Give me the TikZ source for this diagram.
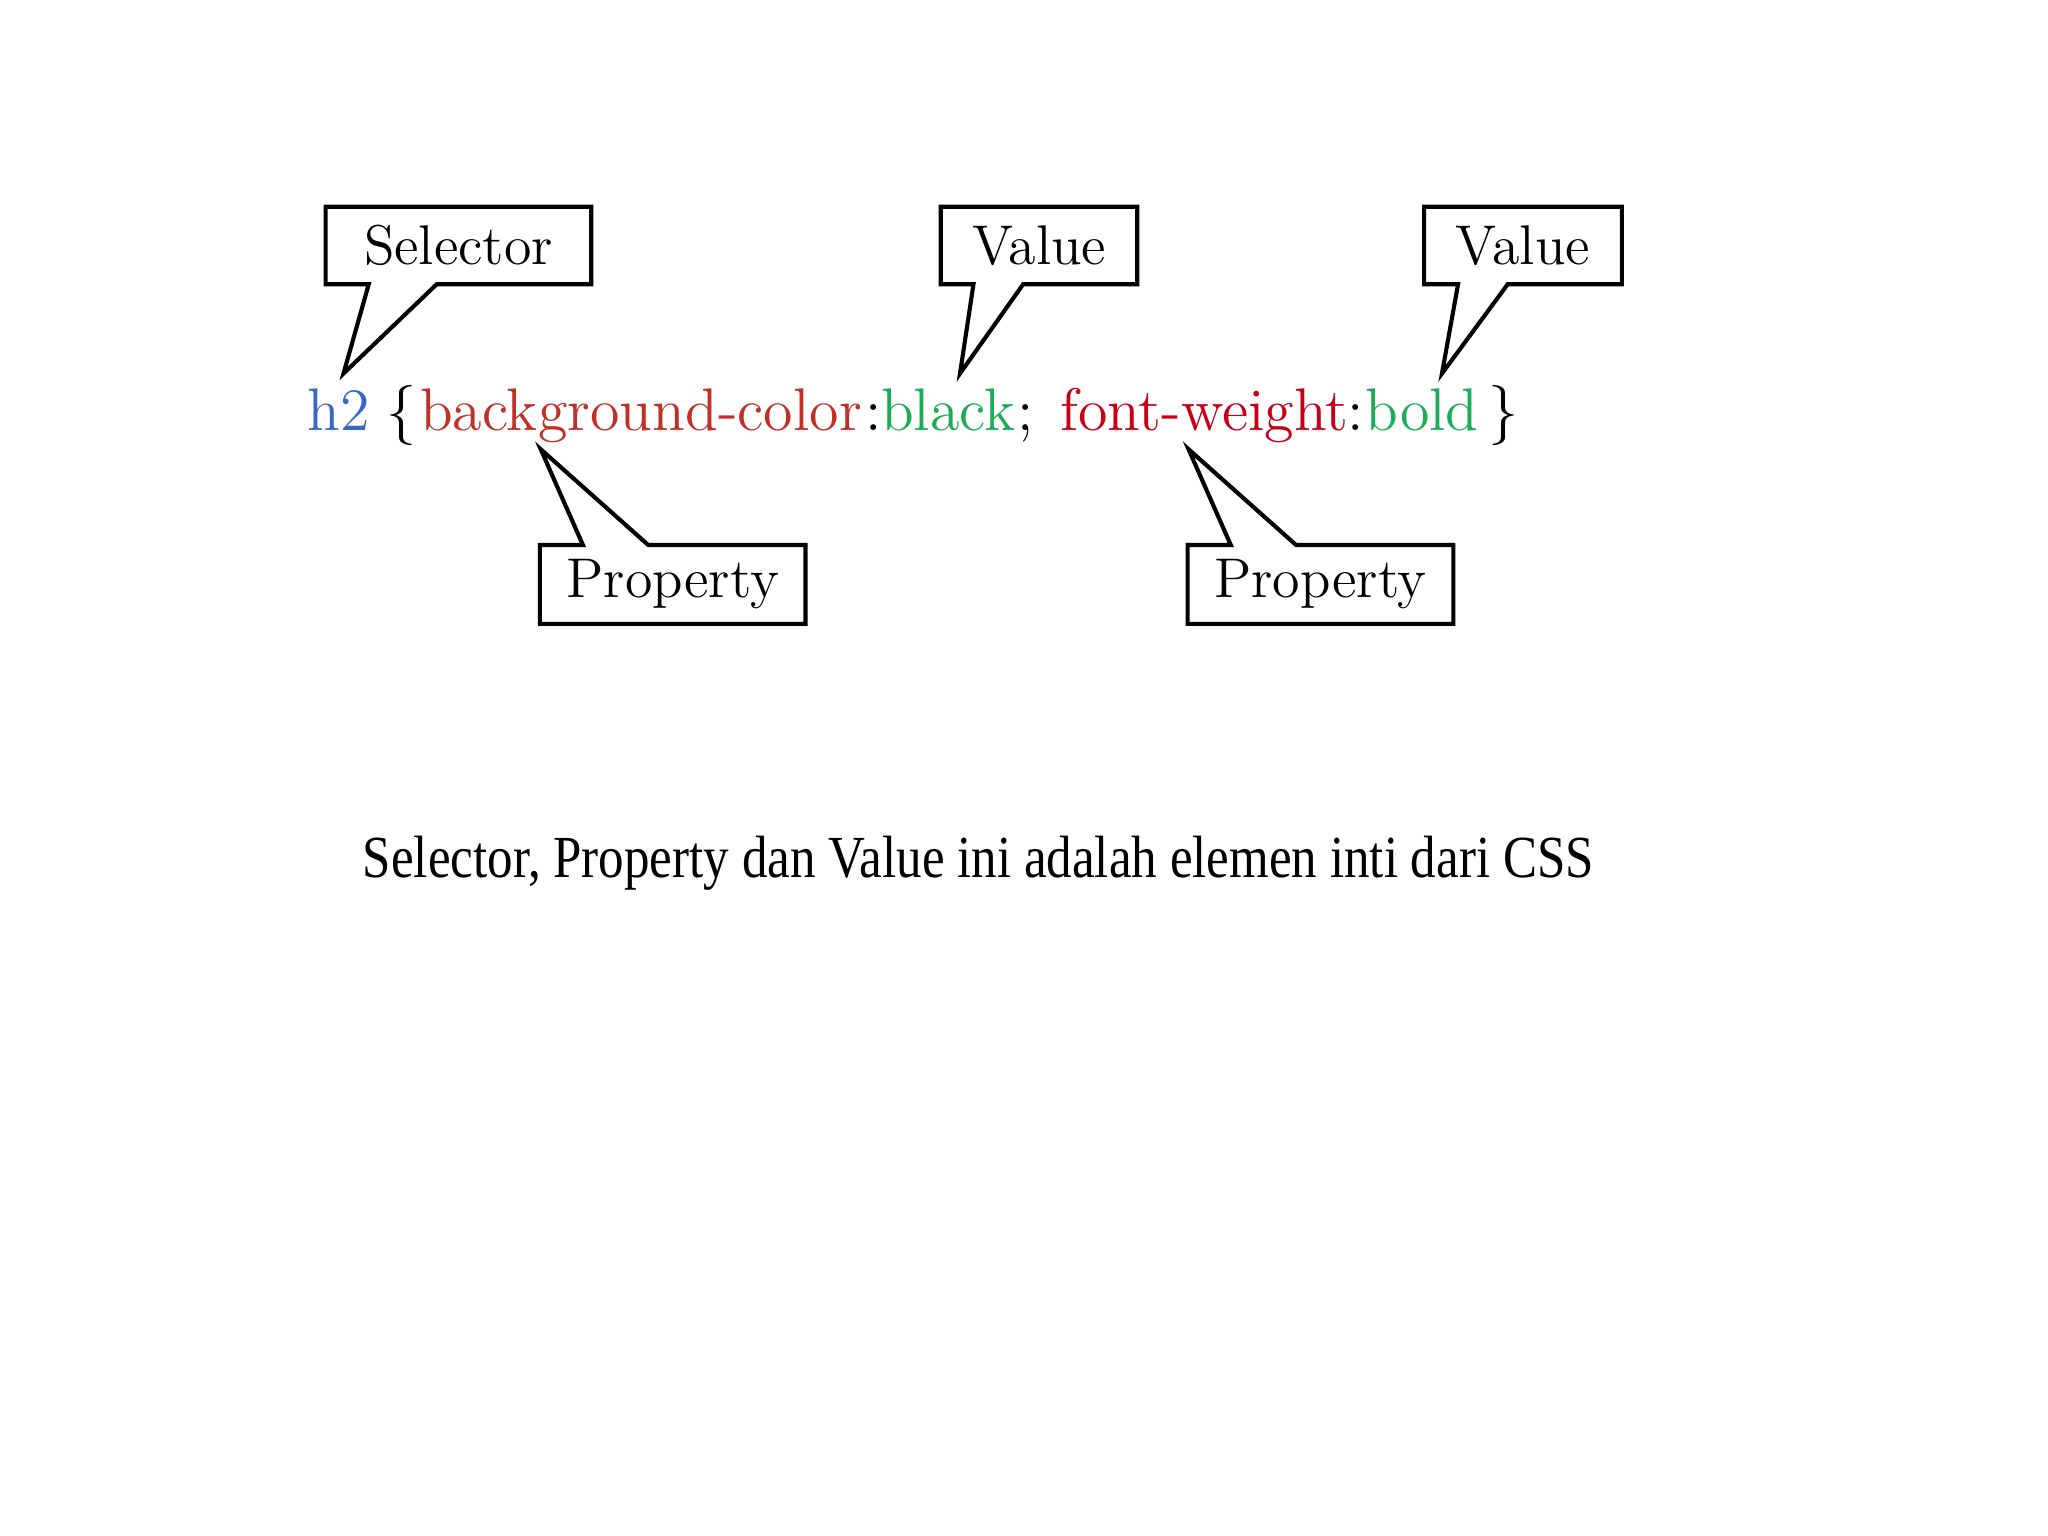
\documentclass[tikz,border=0pt]{standalone}
\usepackage{fontspec}
\newfontfamily\notefont{Liberation Serif}
\usepackage{tikz}
\usetikzlibrary{calc}
\definecolor{selblue}{RGB}{58,102,200}
\definecolor{propbrown}{RGB}{192,48,38}
\definecolor{propred}{RGB}{200,0,22}
\definecolor{valgreen}{RGB}{28,172,84}
\tikzstyle{tagbox} = [inner sep=0pt, minimum width=2.02cm, minimum height=0.58cm, font=\fontsize{12.2}{14}\selectfont]
\tikzstyle{tagline} = [line width=0.9pt, line join=miter]
\tikzstyle{codetext} = [anchor=base west, inner sep=0pt, font=\fontsize{13.1}{15}\selectfont]

\begin{document}
\begin{tikzpicture}
	\useasboundingbox (0,0) rectangle (15.68,11.76);
	% code line
	\node[codetext, text=selblue] (csel) at (2.35,8.46) {h2};
	\node[codetext] (copen) at (2.95,8.46) {\{};
	\node[codetext, text=propbrown] (cpropA) at (3.21,8.46) {background-color};
	\node[codetext] (ccolA) at (6.62,8.46) {:};
	\node[codetext, text=valgreen] (cvalA) at (6.74,8.46) {black};
	\node[codetext] (csemi) at (7.78,8.46) {;};
	\node[codetext, text=propred] (cpropB) at (8.11,8.46) {font-weight};
	\node[codetext] (ccolB) at (10.31,8.46) {:};
	\node[codetext, text=valgreen] (cvalB) at (10.45,8.46) {bold};
	\node[codetext] (cclose) at (11.39,8.46) {\}};
	\coordinate (tipsel) at (2.63,8.90);
	\coordinate (tipvalA) at (7.35,8.90);
	\coordinate (tipvalB) at (11.04,8.90);
	\coordinate (tippropA) at (4.14,8.32);
	\coordinate (tippropB) at (9.10,8.32);
	% boxes above
	\node[tagbox] (sel) at (3.51,9.88) {Selector};
	\node[tagbox, minimum width=1.49cm] (valA) at (7.955,9.88) {Value};
	\node[tagbox, minimum width=1.50cm] (valB) at (11.66,9.88) {Value};
	\draw[tagline] (sel.north west) -- (sel.north east) -- (sel.south east) -- ($(sel.south west)+(0.85,0)$) -- (tipsel) -- ($(sel.south west)+(0.33,0)$) -- (sel.south west) -- cycle;
	\draw[tagline] (valA.north west) -- (valA.north east) -- (valA.south east) -- ($(valA.south west)+(0.63,0)$) -- (tipvalA) -- ($(valA.south west)+(0.25,0)$) -- (valA.south west) -- cycle;
	\draw[tagline] (valB.north west) -- (valB.north east) -- (valB.south east) -- ($(valB.south west)+(0.64,0)$) -- (tipvalB) -- ($(valB.south west)+(0.26,0)$) -- (valB.south west) -- cycle;
	% boxes below
	\node[tagbox, minimum height=0.59cm] (propA) at (5.15,7.285) {Property};
	\node[tagbox, minimum height=0.59cm] (propB) at (10.11,7.285) {Property};
	\draw[tagline] (propA.south west) -- (propA.south east) -- (propA.north east) -- ($(propA.north west)+(0.83,0)$) -- (tippropA) -- ($(propA.north west)+(0.33,0)$) -- (propA.north west) -- cycle;
	\draw[tagline] (propB.south west) -- (propB.south east) -- (propB.north east) -- ($(propB.north west)+(0.83,0)$) -- (tippropB) -- ($(propB.north west)+(0.33,0)$) -- (propB.north west) -- cycle;
	% caption
	\node[anchor=base, inner sep=0pt, font=\notefont\fontsize{13}{15}\selectfont] (note) at (7.49,5.04) {\scalebox{0.855}[1]{Selector, Property dan Value ini adalah elemen inti dari CSS}};
\end{tikzpicture}
\end{document}
